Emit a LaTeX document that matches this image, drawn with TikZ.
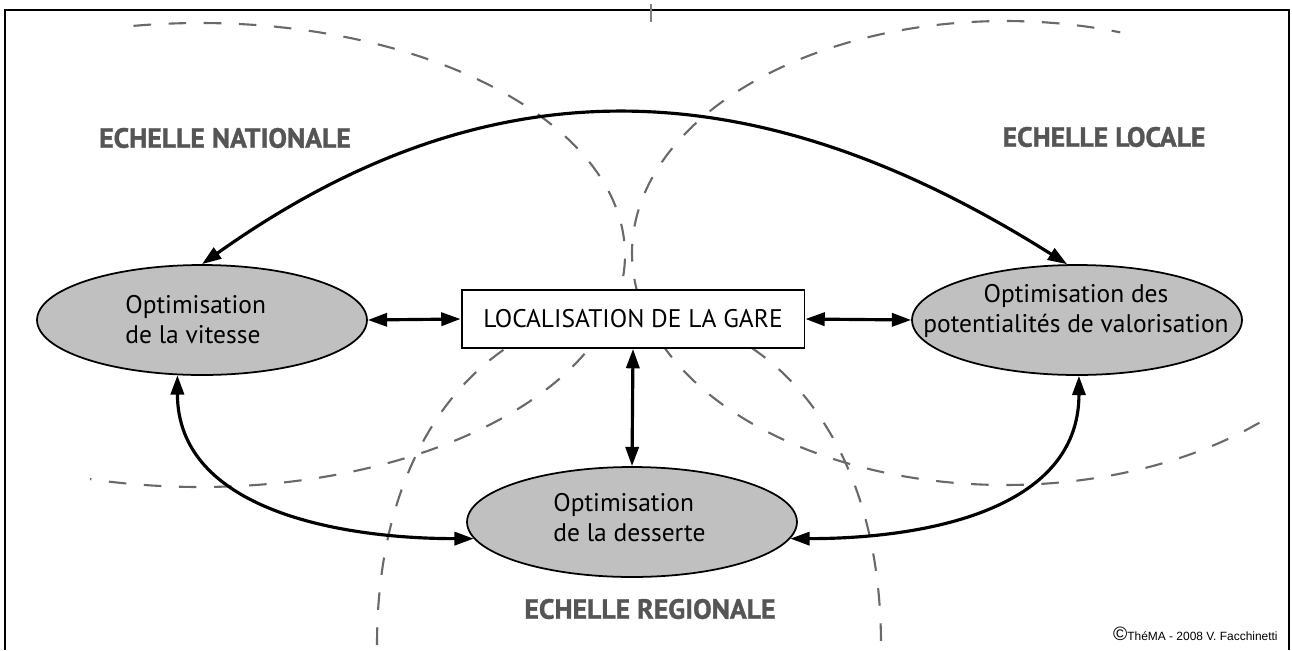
\documentclass[tikz,border=0pt]{standalone}
\usepackage{fontspec}
\setmainfont{PT Sans}
\newfontfamily\creditfont{Liberation Sans}
\newfontfamily\headfont[BoldFeatures={FakeBold=1.2}]{PT Sans}
\usetikzlibrary{shapes.geometric,arrows.meta}
\definecolor{zonegray}{RGB}{192,192,192}
\definecolor{dashgray}{RGB}{105,105,105}
\definecolor{titlegray}{RGB}{85,85,85}

\begin{document}
\begin{tikzpicture}[x=0.02cm,y=-0.02cm,
  zone/.style={ellipse,draw,line width=1pt,fill=zonegray,minimum width=6.6cm,minimum height=2.2cm,inner sep=0pt},
  txt/.style={font=\fontsize{14.5}{17}\selectfont,inner sep=0pt},
  scalename/.style={font=\headfont\fontsize{15.8}{18}\selectfont\bfseries,text=titlegray,inner sep=0pt},
  link/.style={{Triangle[length=11pt,width=7.5pt]}-{Triangle[length=11pt,width=7.5pt]},line width=1.8pt},
  limit/.style={dashgray,line width=1.2pt,dash pattern=on 10pt off 10pt}]
  \useasboundingbox (0,0) rectangle (1292,650);
  \draw[line width=1.4pt] (5,650) -- (5,10) -- (1289,10) -- (1289,650);
  \draw[gray,line width=0.6pt] (651,4) -- (651,22);

  \draw[limit] plot[domain=-99:105,samples=120,smooth] ({200+425*cos(\x)},{255+232*sin(\x)});
  \draw[limit] plot[domain=-313:-72,samples=120,smooth] ({1005+373*cos(\x)},{253+232*sin(\x)});
  \draw[limit] (377,645) .. controls (377,198) and (881,198) .. (881,645);

  \node[scalename] (nat) at (225,138) {ECHELLE NATIONALE};
  \node[scalename] (loc) at (1104,137) {ECHELLE LOCALE};
  \node[scalename] (reg) at (650,609) {ECHELLE REGIONALE};

  \node[zone] (vit) at (202,320) {};
  \node[txt,align=left,anchor=west] (vittxt) at (125,320) {Optimisation\\de la vitesse};
  \node[zone] (val) at (1077,320) {};
  \node[txt,align=center] (valtxt) at (1076,311) {Optimisation des\\potentialités de valorisation};
  \node[zone] (des) at (632,522) {};
  \node[txt,align=left,anchor=west] (destxt) at (553,518) {Optimisation\\de la desserte};
  \node[txt,draw,line width=1.1pt,fill=white,minimum width=6.86cm,minimum height=1.16cm] (gare) at (633,319) {LOCALISATION DE LA GARE};

  \draw[link] (vit.north) .. controls (492,58) and (758,69) .. (val.100);
  \draw[link] (vit.east) -- (gare.west);
  \draw[link] (gare.east) -- (val.west);
  \draw[link] (gare.south) -- (des.north);
  \draw[link] (vit.246) .. controls +(0,135) and +(-133,0) .. (des.186);
  \draw[link] (val.272) .. controls +(0,135) and +(133,0) .. (des.354);

  \node[anchor=east,font=\creditfont\fontsize{6.8}{8}\selectfont,inner sep=0pt] (credit) at (1278,634) {{\fontsize{11}{11}\selectfont ©}ThéMA - 2008 V. Facchinetti};
\end{tikzpicture}
\end{document}
